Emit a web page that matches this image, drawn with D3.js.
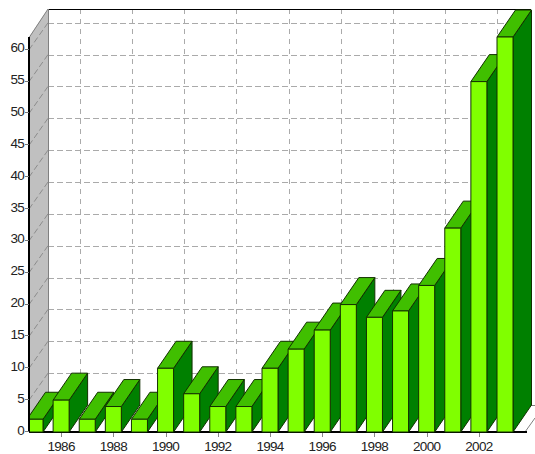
<!DOCTYPE html>
<html>
<head>
<meta charset="utf-8">
<script src="https://cdn.jsdelivr.net/npm/d3@7"></script>
<style>
html, body { margin: 0; padding: 0; background: #fff; }
svg { display: block; }
.tick-label { font-family: "Liberation Sans Narrow", "Liberation Sans", sans-serif; font-size: 13.5px; fill: #222; letter-spacing: -0.7px; }
</style>
</head>
<body>
<div id="chart"></div>
<script>
// values
const years = [1985, 1986, 1987, 1988, 1989, 1990, 1991, 1992, 1993, 1994, 1995, 1996, 1997, 1998, 1999, 2000, 2001, 2002, 2003];
const counts = [2, 5, 2, 4, 2, 10, 6, 4, 4, 10, 13, 16, 20, 18, 19, 23, 32, 55, 62];
const yTicks = d3.range(0, 61, 5);
const xTickYears = [1986, 1988, 1990, 1992, 1994, 1996, 1998, 2000, 2002];

const colors = {front: '#80ff00', top: '#40bf00', side: '#008000', wall: '#c0c0c0', grid: '#aaaaaa', line: '#000'};

const width = 535, height = 454;
const left = 29, base = 432, wallX = 48, wallTop = 9;
const depth = {x: 18.5, y: -27};
const barWidth = 16;

const svg = d3.select("#chart").append("svg")
    .attr("width", width)
    .attr("height", height);

// year centre on the front plane
const x = d3.scaleLinear().domain([1985, 2003]).range([35, 505]);
const y = d3.scaleLinear().domain([0, 62]).range([base, 37]);

const poly = pts => pts.map(p => p.join(",")).join(" ");

// left wall
svg.append("polygon")
    .attr("points", poly([[left, y(62)], [left, base], [wallX, base + depth.y], [wallX, wallTop]]))
    .attr("fill", colors.wall);

// back wall grid
const grid = svg.append("g")
    .attr("stroke", colors.grid)
    .attr("stroke-dasharray", "6,3")
    .attr("fill", "none");

grid.selectAll(".h-grid")
    .data(yTicks.filter(d => d > 0))
    .enter().append("line")
    .attr("class", "h-grid")
    .attr("x1", wallX)
    .attr("x2", 530)
    .attr("y1", d => Math.round(y(d) + depth.y) + 0.5)
    .attr("y2", d => Math.round(y(d) + depth.y) + 0.5);

grid.selectAll(".v-grid")
    .data(xTickYears)
    .enter().append("line")
    .attr("class", "v-grid")
    .attr("stroke-dasharray", "5,5")
    .attr("x1", d => Math.round(x(d) + depth.x) + 0.5)
    .attr("x2", d => Math.round(x(d) + depth.x) + 0.5)
    .attr("y1", wallTop)
    .attr("y2", base + depth.y);

// dashes running across the wall and the floor
grid.selectAll(".wall-grid")
    .data(yTicks)
    .enter().append("line")
    .attr("class", "wall-grid")
    .attr("stroke", "#8c8c8c")
    .attr("x1", left)
    .attr("x2", wallX)
    .attr("y1", d => y(d))
    .attr("y2", d => y(d) + depth.y);

grid.selectAll(".floor-grid")
    .data(xTickYears)
    .enter().append("line")
    .attr("class", "floor-grid")
    .attr("x1", d => x(d))
    .attr("x2", d => x(d) + depth.x)
    .attr("y1", base)
    .attr("y2", base + depth.y);

// frame
svg.append("line")
    .attr("x1", wallX).attr("x2", 531)
    .attr("y1", wallTop + 0.5).attr("y2", wallTop + 0.5)
    .attr("stroke", colors.line);
svg.append("line")
    .attr("x1", wallX + 0.5).attr("x2", wallX + 0.5)
    .attr("y1", wallTop).attr("y2", base + depth.y)
    .attr("stroke", "#808080");
svg.append("line")
    .attr("x1", left + 0.5).attr("x2", wallX)
    .attr("y1", y(62)).attr("y2", wallTop)
    .attr("stroke", "#808080");
// floor edges on the right
svg.append("line")
    .attr("x1", 530).attr("x2", width)
    .attr("y1", base + depth.y + 0.5).attr("y2", base + depth.y + 0.5)
    .attr("stroke", "#808080");
svg.append("line")
    .attr("x1", 525).attr("x2", width)
    .attr("y1", base).attr("y2", 418)
    .attr("stroke", "#808080");

// x axis line sits under the bars
svg.append("line")
    .attr("x1", left).attr("x2", 527)
    .attr("y1", base).attr("y2", base)
    .attr("stroke", colors.line)
    .attr("stroke-width", 2);

// bars, left to right so each one covers the side of the one before
svg.append("clipPath").attr("id", "plot-clip")
    .append("rect").attr("x", left).attr("y", 0).attr("width", width - left).attr("height", height);

const bars = svg.append("g").attr("clip-path", "url(#plot-clip)")
    .selectAll("g")
    .data(years.map((year, i) => ({year: year, value: counts[i]})))
    .enter().append("g")
    .attr("stroke", "#123000")
    .attr("stroke-linejoin", "round");

bars.append("polygon")
    .attr("fill", colors.side)
    .attr("points", d => {
        const r = x(d.year) + barWidth / 2;
        return poly([[r, base], [r, y(d.value)], [r + depth.x, y(d.value) + depth.y], [r + depth.x, base + depth.y]]);
    });

bars.append("polygon")
    .attr("fill", colors.top)
    .attr("points", d => {
        const l = x(d.year) - barWidth / 2, r = l + barWidth, t = y(d.value);
        return poly([[l, t], [r, t], [r + depth.x, t + depth.y], [l + depth.x, t + depth.y]]);
    });

bars.append("rect")
    .attr("fill", colors.front)
    .attr("x", d => x(d.year) - barWidth / 2)
    .attr("width", barWidth)
    .attr("y", d => y(d.value))
    .attr("height", d => base - y(d.value));

// y axis
svg.append("line")
    .attr("x1", left).attr("x2", left)
    .attr("y1", y(62)).attr("y2", base)
    .attr("stroke", colors.line)
    .attr("stroke-width", 2);

svg.selectAll(".y-tick")
    .data(yTicks)
    .enter().append("line")
    .attr("class", "y-tick")
    .attr("x1", left - 4).attr("x2", left)
    .attr("y1", d => Math.round(y(d)) - 0.5)
    .attr("y2", d => Math.round(y(d)) - 0.5)
    .attr("stroke", "#777");

svg.selectAll(".y-label")
    .data(yTicks)
    .enter().append("text")
    .attr("class", "tick-label y-label")
    .attr("x", left - 5)
    .attr("y", d => y(d) + 2.5)
    .attr("text-anchor", "end")
    .text(d => d);

// x axis ticks and labels
svg.selectAll(".x-tick")
    .data(xTickYears)
    .enter().append("line")
    .attr("class", "x-tick")
    .attr("x1", d => Math.round(x(d)) + 0.5)
    .attr("x2", d => Math.round(x(d)) + 0.5)
    .attr("y1", base + 1).attr("y2", base + 5)
    .attr("stroke", "#888");

svg.selectAll(".x-label")
    .data(xTickYears)
    .enter().append("text")
    .attr("class", "tick-label x-label")
    .attr("x", d => x(d))
    .attr("y", 451)
    .attr("text-anchor", "middle")
    .text(d => d);
</script>
</body>
</html>
